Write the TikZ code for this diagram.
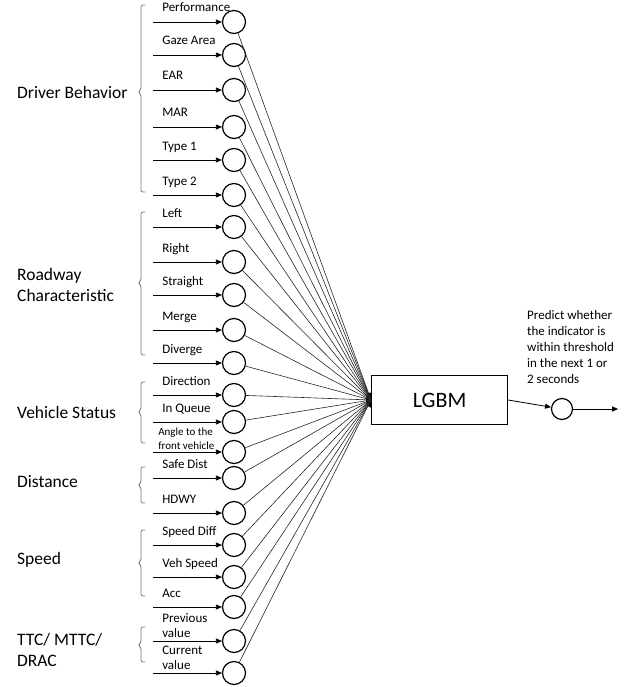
\documentclass[tikz,border=0pt]{standalone}
\usepackage{fontspec}
\setmainfont{Carlito}
\usepackage{tikz}
\usetikzlibrary{positioning,arrows.meta}

\begin{document}
\begin{tikzpicture}[x=1pt, y=-1pt,
  inp/.style={circle, draw, line width=1.2pt, minimum size=23pt, inner sep=0pt},
  feed/.style={line width=0.8pt, -{Triangle[length=6pt, width=5pt]}},
  lbl/.style={anchor=base west, xshift=9pt, yshift=10pt, inner sep=0pt,
              font=\fontsize{13}{15}\selectfont},
  lbltwo/.style={anchor=south west, xshift=9pt, yshift=3pt, inner sep=0pt,
              font=\fontsize{13}{15}\selectfont, align=left},
  link/.style={line width=0.6pt, black!85},
  brk/.style={draw=black!55, line width=0.7pt, rounded corners=2pt},
  cat/.style={anchor=west, inner sep=0pt, font=\fontsize{17.5}{21}\selectfont, align=left},
]
\useasboundingbox (0,0) rectangle (633,687);

% model and output
\coordinate (hub) at (371,400);
\fill (hub) ellipse (5pt and 7.5pt);
\node[draw, fill=white, line width=1.2pt, anchor=west, minimum width=136pt, minimum height=49pt,
      font=\fontsize{22}{26}\selectfont] (lgbm) at (hub) {LGBM};
\node[inp, minimum size=21pt] (out) at (562,409) {};
\draw[feed] (lgbm.east) -- (out);
\draw[feed] (out.east) -- ++(45,0);
\node[anchor=north west, inner sep=0pt, align=left, font=\fontsize{13}{16}\selectfont]
    (note) at (527,310) {Predict whether\\the indicator is\\within threshold\\in the next 1 or\\2 seconds};

% inputs
\node[inp] (perf)     at (234,22)  {};
\node[inp] (gaze)     at (234,55)  {};
\node[inp] (ear)      at (234,90)  {};
\node[inp] (mar)      at (234,127) {};
\node[inp] (typeA)    at (234,160) {};
\node[inp] (typeB)    at (234,195) {};
\node[inp] (left)     at (234,227) {};
\node[inp] (right)    at (234,262) {};
\node[inp] (straight) at (234,295) {};
\node[inp] (merge)    at (234,330) {};
\node[inp] (diverge)  at (234,363) {};
\node[inp] (dir)      at (234,395) {};
\node[inp] (queue)    at (234,422) {};
\node[inp] (angle)    at (234,452) {};
\node[inp] (safe)     at (234,478) {};
\node[inp] (hdwy)     at (234,513) {};
\node[inp] (sdiff)    at (234,545) {};
\node[inp] (vspeed)   at (234,577) {};
\node[inp] (acc)      at (234,607) {};
\node[inp] (prev)     at (234,641) {};
\node[inp] (curr)     at (234,673) {};

\draw[feed] ([xshift=-69pt]perf.west)     node[lbl] {Performance} -- (perf);
\draw[feed] ([xshift=-69pt]gaze.west)     node[lbl] {Gaze Area} -- (gaze);
\draw[feed] ([xshift=-69pt]ear.west)      node[lbl] {EAR} -- (ear);
\draw[feed] ([xshift=-69pt]mar.west)      node[lbl] {MAR} -- (mar);
\draw[feed] ([xshift=-69pt]typeA.west)    node[lbl] {Type 1} -- (typeA);
\draw[feed] ([xshift=-69pt]typeB.west)    node[lbl] {Type 2} -- (typeB);
\draw[feed] ([xshift=-69pt]left.west)     node[lbl] {Left} -- (left);
\draw[feed] ([xshift=-69pt]right.west)    node[lbl] {Right} -- (right);
\draw[feed] ([xshift=-69pt]straight.west) node[lbl] {Straight} -- (straight);
\draw[feed] ([xshift=-69pt]merge.west)    node[lbl] {Merge} -- (merge);
\draw[feed] ([xshift=-69pt]diverge.west)  node[lbl] {Diverge} -- (diverge);
\draw[feed] ([xshift=-69pt]dir.west)      node[lbl] {Direction} -- (dir);
\draw[feed] ([xshift=-69pt]queue.west)    node[lbl] {In Queue} -- (queue);
\draw[feed] ([xshift=-69pt]angle.west)    node[lbltwo, xshift=-4pt, yshift=-1pt, font=\fontsize{11}{14}\selectfont]
    {Angle to the\\front vehicle} -- (angle);
\draw[feed] ([xshift=-69pt]safe.west)     node[lbl] {Safe Dist} -- (safe);
\draw[feed] ([xshift=-69pt]hdwy.west)     node[lbl] {HDWY} -- (hdwy);
\draw[feed] ([xshift=-69pt]sdiff.west)    node[lbl] {Speed Diff} -- (sdiff);
\draw[feed] ([xshift=-69pt]vspeed.west)   node[lbl] {Veh Speed} -- (vspeed);
\draw[feed] ([xshift=-69pt]acc.west)      node[lbl] {Acc} -- (acc);
\draw[feed] ([xshift=-69pt]prev.west)     node[lbltwo] {Previous\\value} -- (prev);
\draw[feed] ([xshift=-69pt]curr.west)     node[lbltwo] {Current\\value} -- (curr);

\foreach \n in {perf,gaze,ear,mar,typeA,typeB,left,right,straight,merge,diverge,
                dir,queue,angle,safe,hdwy,sdiff,vspeed,acc,prev,curr}
  \draw[link] (\n) -- (hub);

% groups
\node[cat] (drv)  at (17,92)  {Driver Behavior};
\node[cat] (road) at (17,285) {Roadway\\Characteristic};
\node[cat] (veh)  at (17,412) {Vehicle Status};
\node[cat] (dist) at (17,482) {Distance};
\node[cat] (spd)  at (17,560) {Speed};
\node[cat] (ttc)  at (17,650) {TTC/ MTTC/\\DRAC};

\draw[brk] (145,5)   -- (141,5)   -- (141,90)  -- (138,92)  -- (141,94)  -- (141,192) -- (145,192);
\draw[brk] (145,212) -- (141,212) -- (141,281) -- (138,283) -- (141,285) -- (141,355) -- (145,355);
\draw[brk] (145,382) -- (141,382) -- (141,410) -- (138,412) -- (141,414) -- (141,443) -- (145,443);
\draw[brk] (145,467) -- (141,467) -- (141,483) -- (138,485) -- (141,487) -- (141,503) -- (145,503);
\draw[brk] (145,530) -- (141,530) -- (141,561) -- (138,563) -- (141,565) -- (141,596) -- (145,596);
\draw[brk] (145,627) -- (141,627) -- (141,643) -- (138,645) -- (141,647) -- (141,662) -- (145,662);
\end{tikzpicture}
\end{document}
